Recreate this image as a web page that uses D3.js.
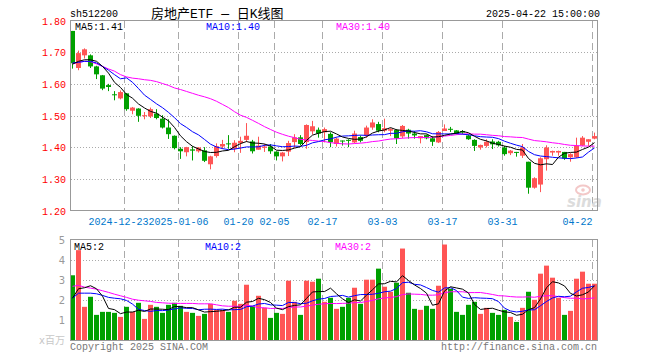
<!DOCTYPE html>
<html><head><meta charset="utf-8">
<script src="https://cdn.jsdelivr.net/npm/d3@7"></script>
<style>
body{margin:0;background:#fff}
svg{display:block}
text{font-family:"Liberation Mono","DejaVu Sans Mono",monospace;font-size:10px}
</style>
</head><body><svg id="c" width="660" height="360"></svg>
<script>
// ---- data ----
const dates = [
"2024-12-10","2024-12-11","2024-12-12","2024-12-13","2024-12-16","2024-12-17","2024-12-18","2024-12-19","2024-12-20","2024-12-23",
"2024-12-24","2024-12-25","2024-12-26","2024-12-27","2024-12-30","2024-12-31","2025-01-02","2025-01-03","2025-01-06","2025-01-07",
"2025-01-08","2025-01-09","2025-01-10","2025-01-13","2025-01-14","2025-01-15","2025-01-16","2025-01-17","2025-01-20","2025-01-21",
"2025-01-22","2025-01-23","2025-01-24","2025-01-27","2025-02-05","2025-02-06","2025-02-07","2025-02-10","2025-02-11","2025-02-12",
"2025-02-13","2025-02-14","2025-02-17","2025-02-18","2025-02-19","2025-02-20","2025-02-21","2025-02-24","2025-02-25","2025-02-26",
"2025-02-27","2025-02-28","2025-03-03","2025-03-04","2025-03-05","2025-03-06","2025-03-07","2025-03-10","2025-03-11","2025-03-12",
"2025-03-13","2025-03-14","2025-03-17","2025-03-18","2025-03-19","2025-03-20","2025-03-21","2025-03-24","2025-03-25","2025-03-26",
"2025-03-27","2025-03-28","2025-03-31","2025-04-01","2025-04-02","2025-04-03","2025-04-07","2025-04-08","2025-04-09","2025-04-10",
"2025-04-11","2025-04-14","2025-04-15","2025-04-16","2025-04-17","2025-04-18","2025-04-21","2025-04-22"];
const open = [1.767,1.650,1.690,1.690,1.655,1.627,1.596,1.567,1.554,1.570,
1.515,1.522,1.498,1.497,1.506,1.490,1.462,1.436,1.395,1.384,
1.393,1.387,1.390,1.346,1.372,1.402,1.412,1.395,1.413,1.423,
1.418,1.392,1.398,1.402,1.386,1.371,1.386,1.416,1.431,1.416,
1.450,1.455,1.447,1.442,1.410,1.421,1.423,1.415,1.432,1.436,
1.462,1.473,1.452,1.452,1.454,1.434,1.455,1.443,1.428,1.438,
1.428,1.415,1.451,1.458,1.453,1.451,1.437,1.423,1.399,1.404,
1.418,1.417,1.399,1.381,1.385,1.373,1.354,1.272,1.282,1.362,
1.383,1.383,1.385,1.368,1.368,1.405,1.417,1.427];
const high = [1.767,1.705,1.712,1.693,1.657,1.628,1.600,1.577,1.579,1.571,
1.527,1.523,1.511,1.525,1.520,1.501,1.488,1.437,1.400,1.401,
1.403,1.400,1.400,1.373,1.412,1.423,1.438,1.422,1.433,1.476,
1.423,1.433,1.410,1.410,1.387,1.385,1.420,1.441,1.438,1.472,
1.483,1.462,1.462,1.447,1.431,1.421,1.425,1.452,1.437,1.468,
1.488,1.480,1.490,1.460,1.457,1.470,1.458,1.451,1.435,1.440,
1.435,1.451,1.472,1.464,1.454,1.454,1.440,1.425,1.408,1.425,
1.425,1.420,1.404,1.391,1.385,1.410,1.354,1.305,1.368,1.406,
1.389,1.389,1.385,1.381,1.430,1.435,1.425,1.446];
const low = [1.648,1.643,1.680,1.650,1.615,1.580,1.577,1.548,1.551,1.515,
1.504,1.480,1.488,1.492,1.488,1.459,1.426,1.393,1.363,1.371,
1.358,1.383,1.353,1.330,1.367,1.395,1.395,1.384,1.382,1.416,
1.380,1.392,1.385,1.379,1.358,1.355,1.372,1.398,1.405,1.395,
1.440,1.430,1.415,1.400,1.402,1.405,1.400,1.412,1.415,1.430,
1.455,1.447,1.447,1.435,1.410,1.428,1.427,1.427,1.412,1.425,
1.404,1.413,1.451,1.448,1.440,1.441,1.423,1.388,1.392,1.399,
1.394,1.402,1.373,1.375,1.370,1.366,1.253,1.269,1.258,1.326,
1.373,1.373,1.360,1.354,1.366,1.403,1.404,1.425];
const close = [1.665,1.697,1.709,1.655,1.630,1.585,1.590,1.564,1.574,1.520,
1.525,1.499,1.501,1.520,1.492,1.462,1.441,1.397,1.387,1.400,
1.389,1.399,1.357,1.371,1.403,1.410,1.409,1.414,1.420,1.436,
1.387,1.405,1.402,1.387,1.371,1.383,1.413,1.431,1.410,1.470,
1.466,1.443,1.457,1.416,1.427,1.418,1.420,1.443,1.420,1.462,
1.478,1.452,1.460,1.457,1.428,1.467,1.443,1.437,1.435,1.428,
1.417,1.448,1.459,1.455,1.442,1.446,1.425,1.404,1.407,1.417,
1.409,1.406,1.378,1.389,1.383,1.399,1.272,1.302,1.365,1.399,
1.388,1.388,1.364,1.378,1.404,1.430,1.425,1.435];
const volume = [3.22,4.47,1.65,2.15,1.25,1.4,1.4,1.35,1.15,1.65,
1.4,1.85,1.05,1.75,1.65,1.35,1.75,1.85,1.7,1.4,
1.35,1.2,1.3,1.8,1.5,1.5,1.4,1.95,1.8,2.75,
1.68,2.2,1.6,1.1,1.35,1.3,2.95,1.9,1.25,2.95,
2.9,3.05,1.9,2.1,1.55,1.65,2.1,2.6,1.8,3.0,
3.0,3.55,2.65,2.4,2.85,4.55,2.35,1.55,1.5,1.7,
1.55,2.7,4.75,2.55,1.4,1.25,1.75,1.9,1.3,1.6,
1.35,1.25,1.5,1.15,0.9,1.6,2.4,2.0,3.3,3.7,
3.1,2.1,1.25,1.45,3.05,3.4,2.8,2.8];
// moving-average values before the window is full
const ma5Head = [1.662,1.671,1.676,1.676];
const ma10Head = [1.666,1.668,1.671,1.671,1.666,1.655,1.643,1.629,1.616];
const ma30Head = [1.663,1.668,1.671,1.670,1.663,1.655,1.647,1.640,1.629,1.622,1.618,1.616,1.613,1.611,1.607,1.601,1.595,1.587,1.582,1.576,1.570,1.564,1.559,1.553,1.545,1.535,1.525,1.512,1.501];
const vma5Head = [2.08,2.55,2.6,2.7];
const vma10Head = [2.08,2.33,2.33,2.33,2.3,2.22,2.12,2.08,2.05];
const vma30Head = [2.67,2.72,2.63,2.58,2.53,2.45,2.37,2.28,2.2,2.12,2.03,1.98,1.95,1.92,1.87,1.85,1.83,1.82,1.82,1.82,1.82,1.8,1.8,1.8,1.75,1.7,1.68,1.68,1.67];
const tickDates = ["2024-12-23","2025-01-06","2025-01-20","2025-02-05","2025-02-17","2025-03-03","2025-03-17","2025-03-31","2025-04-22"];
const tickLabels = ["2024-12-23","2025-01-06","01-20","02-05","02-17","03-03","03-17","03-31","04-22"];
const priceTicks = [1.20,1.30,1.40,1.50,1.60,1.70,1.80];
const volTicks = [1,2,3,4,5];
const titleCode = "sh512200";
const titleName = "房地产ETF — 日K线图";
const titleTime = "2025-04-22 15:00:00";
const maLabels = ["MA5:1.41","MA10:1.40","MA30:1.40"];
const vmaLabels = ["MA5:2","MA10:2","MA30:2"];

// ---- layout ----
const L = 70, R = 597, T = 20, B = 210, VT = 239, VB = 340;
const RED = "#ff5555", GREEN = "#00a000", GRID = "#aaaaaa";
const svg = d3.select("#c");

const x = d3.scaleBand().domain(d3.range(dates.length)).range([L, L + 6 * dates.length]);
const y = d3.scaleLinear().domain([1.2, 1.8]).range([B + 0.5, T + 0.5]);
const yv = d3.scaleLinear().domain([0, 5]).range([VB, VT + 0.5]);

function movAvg(arr, n, head) {
  return arr.map((_, i) => i < n - 1 ? head[i] : d3.mean(arr.slice(i - n + 1, i + 1)));
}
const ma5 = movAvg(close, 5, ma5Head), ma10 = movAvg(close, 10, ma10Head), ma30 = movAvg(close, 30, ma30Head);
const vma5 = movAvg(volume, 5, vma5Head), vma10 = movAvg(volume, 10, vma10Head), vma30 = movAvg(volume, 30, vma30Head);

const tickIdx = tickDates.map(d => dates.indexOf(d));

// grid: vertical dashed
[[T, B], [VT, VB]].forEach(([t, b]) => {
  svg.append("g").selectAll("line").data(tickIdx).join("line")
    .attr("x1", i => x(i) + 0.5).attr("x2", i => x(i) + 0.5)
    .attr("y1", t + 1).attr("y2", b)
    .attr("stroke", GRID).attr("stroke-dasharray", "7,4");
});
// grid: horizontal dotted
svg.append("g").selectAll("line").data(priceTicks.slice(1, -1)).join("line")
  .attr("x1", L + 1).attr("x2", R).attr("y1", d => Math.round(y(d)) + 0.5).attr("y2", d => Math.round(y(d)) + 0.5)
  .attr("stroke", GRID).attr("stroke-dasharray", "1,2");
svg.append("g").selectAll("line").data(volTicks.slice(0, -1)).join("line")
  .attr("x1", L + 1).attr("x2", R).attr("y1", d => Math.round(yv(d)) + 0.5).attr("y2", d => Math.round(yv(d)) + 0.5)
  .attr("stroke", GRID).attr("stroke-dasharray", "1,2");

// watermark
const wm = svg.append("g");
wm.append("ellipse").attr("cx", 583).attr("cy", 190).attr("rx", 7).attr("ry", 4.5)
  .attr("fill", "none").attr("stroke", "#f3c8c8").attr("stroke-width", 2);
wm.append("circle").attr("cx", 583).attr("cy", 190).attr("r", 1.8).attr("fill", "#f3c8c8");
wm.append("text").attr("x", 567).attr("y", 207).text("sina")
  .style("font-family", "DejaVu Sans, sans-serif").style("font-size", "15px").style("font-weight", "bold")
  .style("font-style", "italic").attr("fill", "#dcdcdc");

// candles
const up = i => close[i] >= open[i];
const cg = svg.append("g");
cg.selectAll("line").data(d3.range(dates.length)).join("line")
  .attr("x1", i => x(i) + 2.5).attr("x2", i => x(i) + 2.5)
  .attr("y1", i => y(high[i])).attr("y2", i => y(low[i]))
  .attr("stroke", i => up(i) ? RED : GREEN);
cg.selectAll("rect").data(d3.range(dates.length)).join("rect")
  .attr("x", i => x(i)).attr("width", 5)
  .attr("y", i => y(Math.max(open[i], close[i])))
  .attr("height", i => Math.max(1, y(Math.min(open[i], close[i])) - y(Math.max(open[i], close[i]))))
  .attr("fill", i => up(i) ? RED : GREEN);

// volume bars
svg.append("g").selectAll("rect").data(d3.range(dates.length)).join("rect")
  .attr("x", i => x(i)).attr("width", 5)
  .attr("y", i => yv(volume[i])).attr("height", i => VB - yv(volume[i]))
  .attr("fill", i => up(i) ? RED : GREEN);

// MA lines
const lineP = d3.line().x((d, i) => x(i) + 2.5).y(d => y(d));
const lineV = d3.line().x((d, i) => x(i) + 2.5).y(d => yv(d));
[[ma30, "#ff00ff"], [ma10, "#0000ff"], [ma5, "#000000"]].forEach(([d, c]) =>
  svg.append("path").attr("d", lineP(d)).attr("fill", "none").attr("stroke", c).attr("stroke-width", 1));
[[vma30, "#ff00ff"], [vma10, "#0000ff"], [vma5, "#000000"]].forEach(([d, c]) =>
  svg.append("path").attr("d", lineV(d)).attr("fill", "none").attr("stroke", c).attr("stroke-width", 1));

// frames
svg.append("rect").attr("x", L + 0.5).attr("y", T + 0.5).attr("width", R - L).attr("height", B - T)
  .attr("fill", "none").attr("stroke", "#999");
svg.append("rect").attr("x", L + 0.5).attr("y", VT + 0.5).attr("width", R - L).attr("height", VB - VT)
  .attr("fill", "none").attr("stroke", "#999");

// price axis labels
svg.append("g").selectAll("text").data(priceTicks).join("text")
  .attr("x", 66).attr("y", d => y(d) + 4).attr("text-anchor", "end").attr("fill", "#ff0000")
  .text(d => d.toFixed(2));
// volume axis labels
svg.append("g").selectAll("text").data(volTicks).join("text")
  .attr("x", 65).attr("y", d => yv(d) + 4).attr("text-anchor", "end").attr("fill", "#999")
  .style("font-family", "DejaVu Sans, sans-serif").style("font-size", "10px")
  .text(d => d);
svg.append("text").attr("x", 65).attr("y", 344).attr("text-anchor", "end").attr("fill", "#c8c8c8")
  .style("font-family", "DejaVu Sans, 'Noto Sans CJK SC', sans-serif").style("font-size", "10px").text("x百万");

// x tick labels: centred on the tick, last one ends at its tick, collisions pushed left
const xl = svg.append("g");
const pos = tickIdx.map((i, k) => {
  const tx = x(i) + 0.5, w = tickLabels[k].length * 6;
  let x0 = tx - w / 2;
  if (x0 + w > R) x0 = tx - w;
  return {x0, w};
});
for (let k = pos.length - 2; k >= 0; k--) {
  if (pos[k].x0 + pos[k].w > pos[k + 1].x0) pos[k].x0 = pos[k + 1].x0 - pos[k].w;
}
pos.forEach((p, k) => xl.append("text").attr("x", p.x0).attr("y", 225).attr("fill", "#0077cc").text(tickLabels[k]));

// titles
svg.append("text").attr("x", 70).attr("y", 17).attr("fill", "#000").text(titleCode);
svg.append("text").attr("x", 151).attr("y", 18).attr("fill", "#000")
  .style("font-family", "'Liberation Mono','Noto Sans CJK SC',monospace").style("font-size", "13px").text(titleName);
svg.append("text").attr("x", 600).attr("y", 17).attr("text-anchor", "end").attr("fill", "#000").text(titleTime);

// MA legends
const maColors = ["#000000", "#0000ff", "#ff00ff"];
const maX = [75, 206, 336];
maLabels.forEach((t, k) => svg.append("text").attr("x", maX[k]).attr("y", 30).attr("fill", maColors[k]).text(t));
vmaLabels.forEach((t, k) => svg.append("text").attr("x", maX[k] - 1).attr("y", 250).attr("fill", maColors[k]).text(t));

// footer
svg.append("text").attr("x", 70).attr("y", 350).attr("fill", "#777").text("Copyright 2025 SINA.COM");
svg.append("text").attr("x", 597).attr("y", 350).attr("text-anchor", "end").attr("fill", "#777").text("http://finance.sina.com.cn");
</script>
</body></html>
